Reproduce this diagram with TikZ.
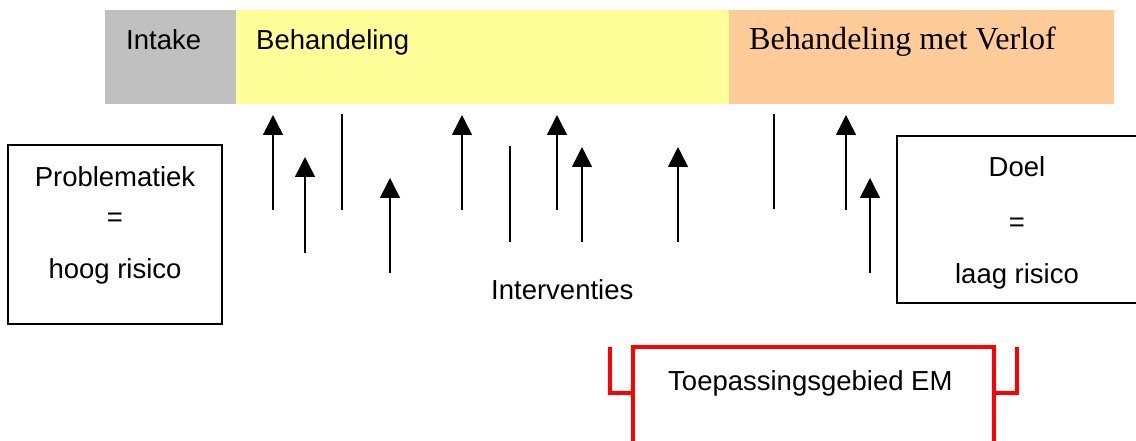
\documentclass[tikz,border=0pt]{standalone}
\usepackage{fontspec}
\setmainfont{Liberation Sans}
\newfontfamily\timesfont{Liberation Serif}
\usetikzlibrary{arrows.meta}
\definecolor{intakegray}{HTML}{C0C0C0}
\definecolor{behyellow}{HTML}{FFFF99}
\definecolor{verlofor}{HTML}{FFCC99}
\definecolor{emred}{HTML}{FF0000}
\tikzset{
  lbl/.style={inner sep=0pt, font=\fontsize{27.5}{33}\selectfont},
  tlbl/.style={inner sep=0pt, font=\timesfont\fontsize{32.1}{38}\selectfont},
  box/.style={draw=black, line width=1.5pt, fill=white},
  intarrow/.style={line width=1.5pt, -{Triangle[width=20pt,length=20pt]}},
  intline/.style={line width=1.5pt},
  redline/.style={draw=emred, line width=4pt}
}
\begin{document}
\begin{tikzpicture}[x=1pt,y=-1pt]
\useasboundingbox (0,0) rectangle (1136,441);
\clip (0,0) rectangle (1136,441);
% top bar
\fill[intakegray] (105,10) rectangle (236,104);
\fill[behyellow] (236,10) rectangle (729,104);
\fill[verlofor] (729,10) rectangle (1114,104);
\node[lbl, anchor=base west] (intake) at (126,50) {Intake};
\node[lbl, anchor=base west] (behandeling) at (256,50) {Behandeling};
\node[tlbl, anchor=base west] (verlof) at (749,50) {Behandeling met Verlof};
% left box
\draw[box] (8,145) rectangle (222,324);
\node[lbl, anchor=base] (probl) at (115,187) {Problematiek};
\node[lbl, anchor=base] (probeq) at (115,226) {=};
\node[lbl, anchor=base] (hoog) at (115,278) {hoog risico};
% right box
\draw[box] (897,136) rectangle (1160,303);
\node[lbl, anchor=base] (doel) at (1017,177) {Doel};
\node[lbl, anchor=base] (doeleq) at (1017,232) {=};
\node[lbl, anchor=base] (laag) at (1017,283) {laag risico};
% interventions
\foreach \n/\x/\t/\b in {a1/273/115/210, a2/305/157/253, a4/390/178/273, a5/462/115/210,
  a7/557/115/210, a8/582/147/242, a9/678/147/242, a11/846/115/210, a12/870/178/273} {
  \coordinate (\n s) at (\x,\b);
  \coordinate (\n e) at (\x,\t);
  \draw[intarrow] (\n s) -- (\n e);
}
\foreach \n/\x/\t/\b in {l3/342/114/210, l6/510/146/242, l10/774/114/209} {
  \coordinate (\n s) at (\x,\b);
  \coordinate (\n e) at (\x,\t);
  \draw[intline] (\n s) -- (\n e);
}
\node[lbl, anchor=base west] (interv) at (491,299) {Interventies};
% EM area
\draw[redline] (633,347) rectangle (994,460);
\coordinate (bl1) at (610,347);
\coordinate (bl2) at (610,393);
\coordinate (bl3) at (633,393);
\coordinate (br1) at (1017,347);
\coordinate (br2) at (1017,393);
\coordinate (br3) at (994,393);
\draw[redline] (bl1) -- (bl2) -- (bl3);
\draw[redline] (br1) -- (br2) -- (br3);
\node[lbl, anchor=base west] (em) at (668,390) {Toepassingsgebied EM};
\end{tikzpicture}
\end{document}
